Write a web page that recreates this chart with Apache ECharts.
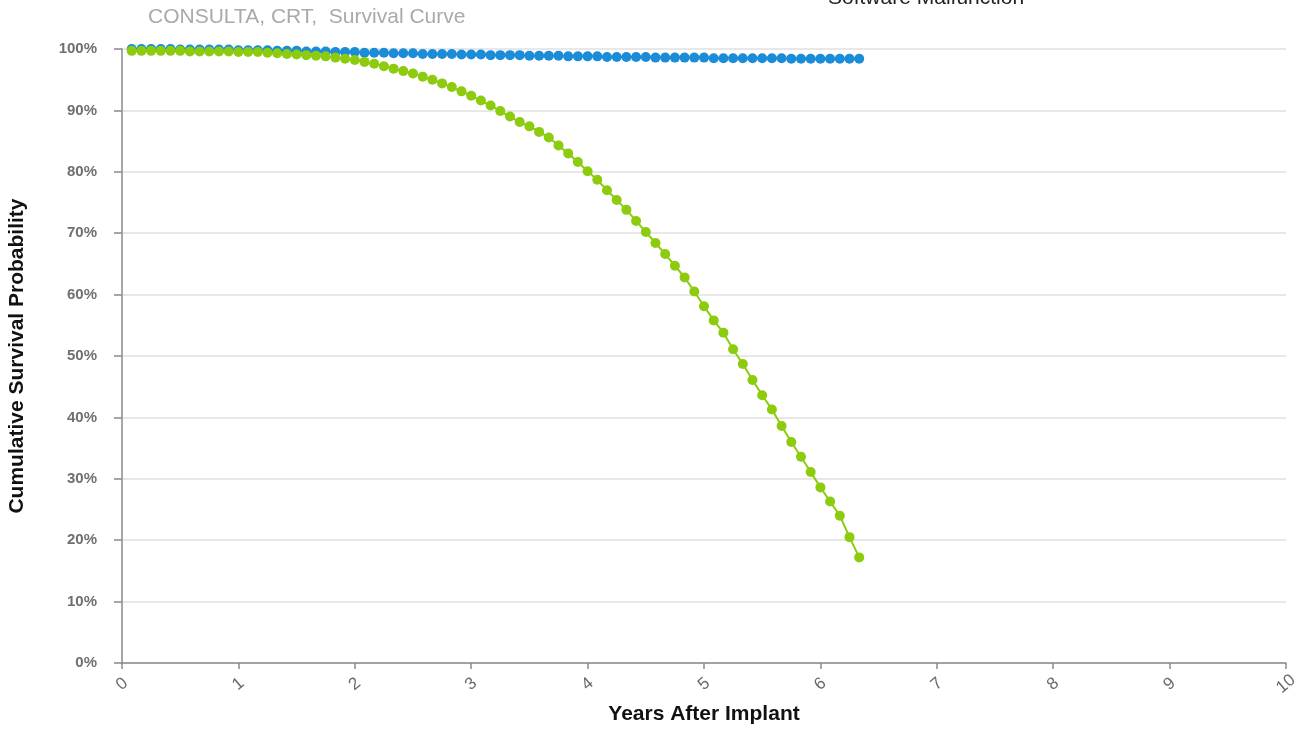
<!DOCTYPE html>
<html>
<head>
<meta charset="utf-8">
<script src="https://cdn.jsdelivr.net/npm/echarts@6/dist/echarts.min.js"></script>
<style>
html,body{margin:0;padding:0;background:#fff;}
#chart{width:1298px;height:746px;}
</style>
</head>
<body>
<div id="chart"></div>
<script>
const titleText = 'CONSULTA, CRT,  Survival Curve';
const subtitleText = 'Software Malfunction';
const xAxisName = 'Years After Implant';
const yAxisName = 'Cumulative Survival Probability';
const xTicks = [0,1,2,3,4,5,6,7,8,9,10];
const yTicks = [0,10,20,30,40,50,60,70,80,90,100];

const months = [1,2,3,4,5,6,7,8,9,10,11,12,13,14,15,16,17,18,19,20,21,22,23,24,25,26,27,28,29,30,31,32,33,34,35,36,37,38,39,40,41,42,43,44,45,46,47,48,49,50,51,52,53,54,55,56,57,58,59,60,61,62,63,64,65,66,67,68,69,70,71,72,73,74,75,76];

const blueSurvival = [
  100,100,100,100,100,99.9,99.9,99.9,99.9,99.9,99.9,99.8,
  99.8,99.8,99.8,99.7,99.7,99.7,99.6,99.6,99.6,99.5,99.5,99.5,
  99.4,99.4,99.4,99.3,99.3,99.3,99.2,99.2,99.2,99.2,99.1,99.1,
  99.1,99.0,99.0,99.0,99.0,98.9,98.9,98.9,98.9,98.8,98.8,98.8,
  98.8,98.7,98.7,98.7,98.7,98.7,98.6,98.6,98.6,98.6,98.6,98.6,
  98.5,98.5,98.5,98.5,98.5,98.5,98.5,98.5,98.4,98.4,98.4,98.4,98.4,98.4,98.4,98.4
];

const greenSurvival = [
  99.7,99.7,99.7,99.7,99.7,99.7,99.6,99.6,99.6,99.6,99.6,99.5,
  99.5,99.5,99.4,99.3,99.2,99.1,99.0,98.9,98.8,98.6,98.4,98.2,
  97.9,97.6,97.2,96.8,96.4,96.0,95.5,95.0,94.4,93.8,93.1,92.4,
  91.6,90.8,89.9,89.0,88.1,87.4,86.5,85.6,84.3,83.0,81.6,80.1,
  78.7,77.0,75.4,73.8,72.0,70.2,68.4,66.6,64.7,62.8,60.5,58.1,
  55.8,53.8,51.1,48.7,46.1,43.6,41.3,38.6,36.0,33.6,31.1,28.6,26.3,24.0,20.5,17.2
];

const blueData = months.map((m, i) => [m / 12, blueSurvival[i]]);
const greenData = months.map((m, i) => [m / 12, greenSurvival[i]]);

const chart = echarts.init(document.getElementById('chart'));
chart.setOption({
  animation: false,
  backgroundColor: '#ffffff',
  graphic: [
    { type: 'text', left: 148, top: 7, style: { text: titleText, fill: '#aaaaaa', font: '21px "Liberation Sans", Arial, sans-serif' } },
    { type: 'text', left: 828, top: -12, style: { text: subtitleText, fill: '#222222', font: '21px "Liberation Sans", Arial, sans-serif' } }
  ],
  grid: { left: 122, right: 12, top: 49, bottom: 83, containLabel: false, outerBoundsMode: 'none' },
  xAxis: {
    type: 'value', min: xTicks[0], max: xTicks[xTicks.length - 1], interval: 1,
    name: xAxisName, nameLocation: 'middle', nameGap: 32,
    nameTextStyle: { fontFamily: '"Liberation Sans", Arial', fontWeight: 'bold', fontSize: 21, color: '#111' },
    axisLine: { show: true, lineStyle: { color: '#8a8a8a', width: 1.5 } },
    axisTick: { show: true, length: 6, lineStyle: { color: '#8a8a8a', width: 1.5 } },
    axisLabel: { rotate: 40, align: 'center', verticalAlign: 'middle', margin: 21, color: '#6a6a6a', fontSize: 17, fontFamily: '"Liberation Sans", Arial' },
    splitLine: { show: false }
  },
  yAxis: {
    type: 'value', min: yTicks[0], max: yTicks[yTicks.length - 1], interval: 10,
    name: yAxisName, nameLocation: 'middle', nameGap: 94, nameRotate: 90,
    nameTextStyle: { fontFamily: '"Liberation Sans", Arial', fontWeight: 'bold', fontSize: 21, color: '#111' },
    axisLine: { show: true, lineStyle: { color: '#8a8a8a', width: 1.5 } },
    axisTick: { show: true, length: 8, lineStyle: { color: '#8a8a8a', width: 1.5 } },
    axisLabel: { margin: 25, color: '#6f6f6f', fontSize: 15, fontWeight: 'bold', fontFamily: '"Liberation Sans", Arial', formatter: '{value}%' },
    splitLine: { show: true, lineStyle: { color: '#e8e8e8', width: 2 } }
  },
  series: [
    {
      name: 'Blue', type: 'line', data: blueData, symbol: 'circle', symbolSize: 10,
      lineStyle: { color: '#1a8cd8', width: 2 }, itemStyle: { color: '#1a8cd8' }
    },
    {
      name: 'Green', type: 'line', data: greenData, symbol: 'circle', symbolSize: 10,
      lineStyle: { color: '#8ccb0e', width: 2 }, itemStyle: { color: '#8ccb0e' }
    }
  ]
});
</script>
</body>
</html>
